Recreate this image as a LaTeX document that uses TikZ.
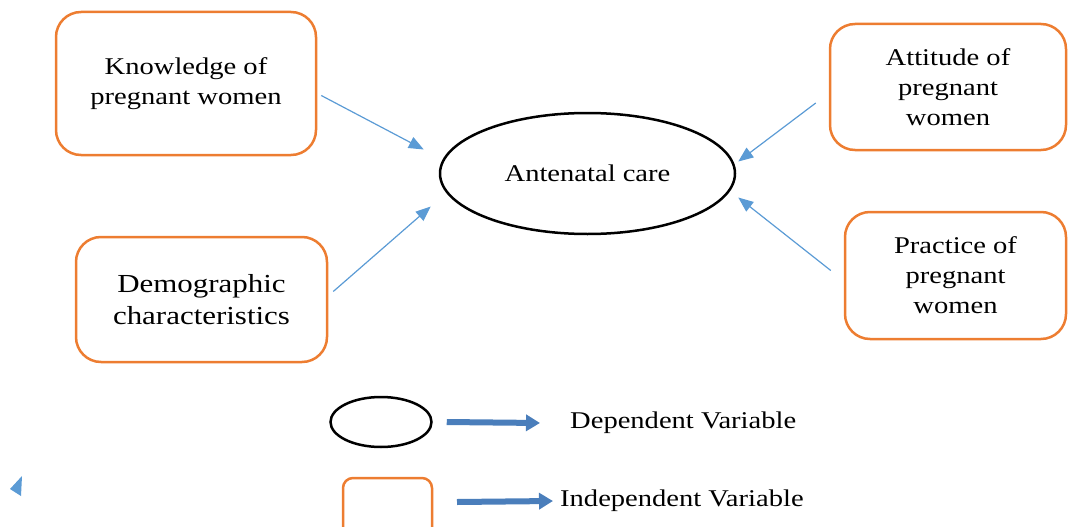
\documentclass[tikz,border=0pt]{standalone}
\usepackage{fontspec}
\setmainfont[FakeStretch=1.19]{Liberation Serif}
\usetikzlibrary{arrows.meta,shapes.geometric}
\definecolor{boxorange}{HTML}{ED7D31}
\definecolor{linkblue}{HTML}{5B9BD5}
\definecolor{legblue}{HTML}{4A7EBB}
\definecolor{legedge}{HTML}{3F6A9C}
\tikzset{
  indep/.style={draw=boxorange, line width=2.5pt, rounded corners=25pt, align=center, inner sep=0pt},
  dep/.style={draw=black, line width=2.5pt, ellipse, inner sep=0pt},
  conn/.style={draw=linkblue, line width=1.2pt, -{Triangle[length=15pt,width=12pt]}},
  legarrow/.style={draw=legblue, line width=6pt, -{Triangle[length=14pt,width=16pt]}},
  lbl/.style={font=\fontsize{24}{30}\selectfont},
}
\begin{document}
\begin{tikzpicture}[x=1pt,y=-1pt]
\useasboundingbox (0,0) rectangle (1068,527);
\node[indep, minimum width=260pt, minimum height=143pt, lbl] (k) at (186,83.5) {Knowledge of\\pregnant women};
\node[indep, minimum width=251pt, minimum height=125pt, font=\fontsize{26}{32}\selectfont] (d) at (201.5,299.5) {Demographic\\characteristics};
\node[indep, minimum width=236pt, minimum height=126pt, lbl] (a) at (948,87) {Attitude of\\pregnant\\women};
\node[indep, minimum width=221pt, minimum height=127pt, lbl] (p) at (955.5,275.5) {Practice of\\pregnant\\women};
\node[dep, minimum width=295pt, minimum height=121pt, lbl] (e) at (587.5,173.5) {Antenatal care};

\draw[conn] ([shift={(4,12)}]k.east) -- ([shift={(-15,-24)}]e.west);
\draw[conn] ([shift={(5,-8)}]d.east) -- ([shift={(-8,33)}]e.west);
\draw[conn] ([shift={(-13,16)}]a.west) -- ([shift={(2,-12)}]e.east);
\draw[conn] ([shift={(-13,-5)}]p.west) -- ([shift={(2,24)}]e.east);

% legend
\node[dep, minimum width=101pt, minimum height=50pt] (le) at (381,422) {};
\node[lbl, anchor=west, inner sep=0pt] (lt1) at (570,423) {Dependent Variable};
\draw[legarrow] ([xshift=14pt]le.east) -- ([xshift=-30pt]lt1.west);
\draw[boxorange, line width=2.5pt, rounded corners=10pt] (343,478) -- (432,478) -- (432,540) -- (343,540) -- cycle;
\coordinate (lb) at (432,502);
\node[lbl, anchor=west, inner sep=0pt] (lt2) at (560,501) {Independent Variable};
\draw[legarrow] ([xshift=25pt]lb) -- ([xshift=-7pt]lt2.west);

% stray arrowhead
\fill[linkblue] (10,489) -- (22,476) -- (21,496) -- cycle;
\end{tikzpicture}
\end{document}
